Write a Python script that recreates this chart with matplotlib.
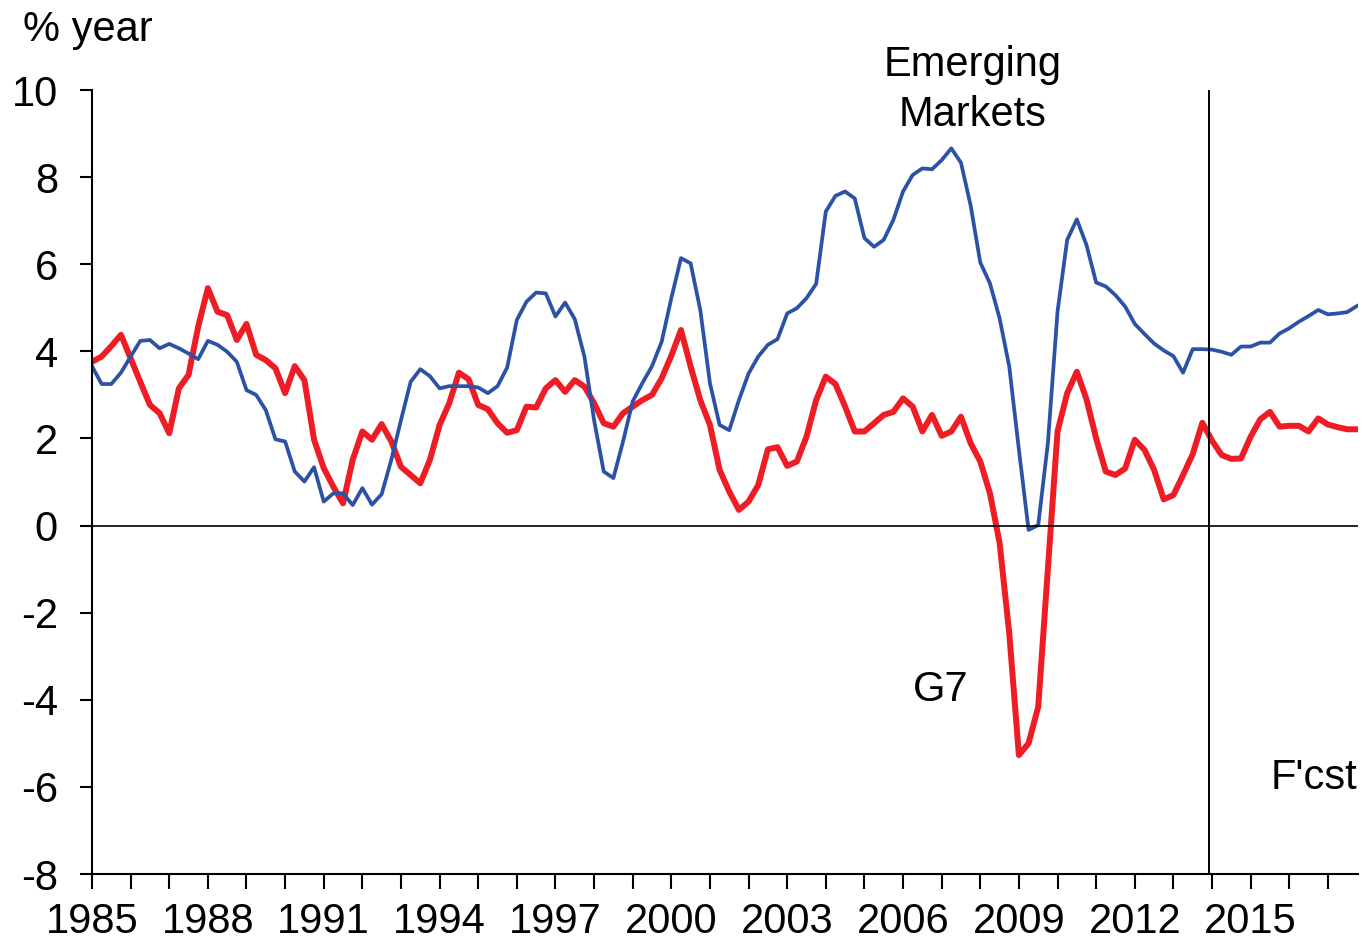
import matplotlib
matplotlib.use("Agg")
import matplotlib.pyplot as plt
import numpy as np

plt.rcParams["font.family"] = ["Liberation Sans", "DejaVu Sans"]
plt.rcParams["axes.unicode_minus"] = False

# quarterly, 1985Q1 .. 2017Q4
quarters = np.arange(1985, 2018, 0.25)

g7 = [3.76, 3.88, 4.12, 4.38, 3.84, 3.30, 2.77, 2.58, 2.12, 3.15,
      3.46, 4.57, 5.45, 4.91, 4.83, 4.26, 4.63, 3.92, 3.80, 3.61,
      3.04, 3.66, 3.34, 1.97, 1.32, 0.89, 0.51, 1.51, 2.16, 1.97,
      2.33, 1.93, 1.35, 1.16, 0.97, 1.51, 2.31, 2.81, 3.51, 3.36,
      2.77, 2.67, 2.35, 2.13, 2.19, 2.73, 2.71, 3.15, 3.34, 3.07,
      3.34, 3.19, 2.81, 2.35, 2.27, 2.58, 2.73, 2.88, 3.00, 3.38,
      3.90, 4.49, 3.65, 2.88, 2.31, 1.28, 0.78, 0.36, 0.55, 0.93,
      1.75, 1.80, 1.37, 1.47, 2.04, 2.88, 3.42, 3.25, 2.73, 2.16,
      2.16, 2.35, 2.54, 2.61, 2.92, 2.73, 2.16, 2.54, 2.06, 2.16,
      2.50, 1.89, 1.47, 0.74, -0.40, -2.47, -5.27, -5.00, -4.16, -1.00,
      2.16, 3.04, 3.53, 2.90, 2.00, 1.24, 1.16, 1.31, 1.97, 1.74,
      1.28, 0.60, 0.70, 1.16, 1.64, 2.36, 1.95, 1.62, 1.53, 1.54,
      2.04, 2.44, 2.61, 2.27, 2.29, 2.29, 2.16, 2.46, 2.32, 2.26,
      2.21, 2.21]

emerging = [3.66, 3.25, 3.25, 3.51, 3.88, 4.24, 4.26, 4.07, 4.17, 4.07,
            3.95, 3.82, 4.24, 4.15, 3.99, 3.76, 3.11, 3.00, 2.65, 1.98,
            1.93, 1.24, 1.01, 1.34, 0.55, 0.74, 0.74, 0.47, 0.86, 0.48,
            0.72, 1.51, 2.42, 3.30, 3.59, 3.43, 3.15, 3.20, 3.20, 3.20,
            3.17, 3.04, 3.20, 3.63, 4.72, 5.14, 5.35, 5.33, 4.80, 5.12,
            4.74, 3.88, 2.42, 1.24, 1.09, 1.93, 2.85, 3.27, 3.66, 4.22,
            5.22, 6.14, 6.02, 4.95, 3.27, 2.31, 2.19, 2.88, 3.49, 3.88,
            4.15, 4.28, 4.87, 4.99, 5.22, 5.55, 7.21, 7.57, 7.67, 7.51,
            6.60, 6.40, 6.56, 7.02, 7.67, 8.05, 8.20, 8.18, 8.39, 8.66,
            8.33, 7.35, 6.04, 5.56, 4.76, 3.65, 1.74, -0.10, 0.01, 1.89,
            4.91, 6.56, 7.03, 6.44, 5.58, 5.49, 5.29, 5.03, 4.63, 4.40,
            4.18, 4.02, 3.89, 3.51, 4.05, 4.05, 4.04, 3.99, 3.92, 4.11,
            4.11, 4.20, 4.20, 4.41, 4.53, 4.68, 4.81, 4.95, 4.85, 4.87,
            4.90, 5.04]

year_ticks = list(range(1985, 2018))
year_labels = [str(y) if (y - 1985) % 3 == 0 else "" for y in year_ticks]
forecast_start = 2013.92

fs = 30
fig = plt.figure(figsize=(13.64, 9.42), dpi=100)
ax = fig.add_axes([92 / 1364, 1 - 874 / 942, (1358 - 92) / 1364, (874 - 90) / 942])

ax.plot(quarters, g7, color="#ee1c25", lw=4.3)
ax.plot(quarters, emerging, color="#2b52a5", lw=2.7)

ax.axhline(0, color="black", lw=1.2)
ax.axvline(forecast_start, color="black", lw=1.4)

ax.set_xlim(1985, 2017.78)
ax.set_ylim(-8, 10)
ax.set_yticks(range(-8, 11, 2))
ax.set_xticks(year_ticks)
ax.set_xticklabels(year_labels)

for s in ["top", "right"]:
    ax.spines[s].set_visible(False)
for s in ["left", "bottom"]:
    ax.spines[s].set_linewidth(1.5)

ax.tick_params(axis="y", direction="out", length=8.5, width=1.5, pad=16, labelsize=fs)
ax.tick_params(axis="x", direction="out", length=10.5, width=1.5, pad=10, labelsize=fs)

ax.text(2007.8, 10.0, "Emerging\nMarkets", ha="center", va="center",
        fontsize=fs, linespacing=1.3, clip_on=False)
ax.text(2006.97, -3.77, "G7", ha="center", va="center", fontsize=fs)
ax.text(2016.63, -5.79, "F'cst", ha="center", va="center", fontsize=fs)
fig.text(23 / 1364, 1 - 30 / 942, "% year", ha="left", va="center", fontsize=fs)

fig.savefig("out.png", dpi=100)
